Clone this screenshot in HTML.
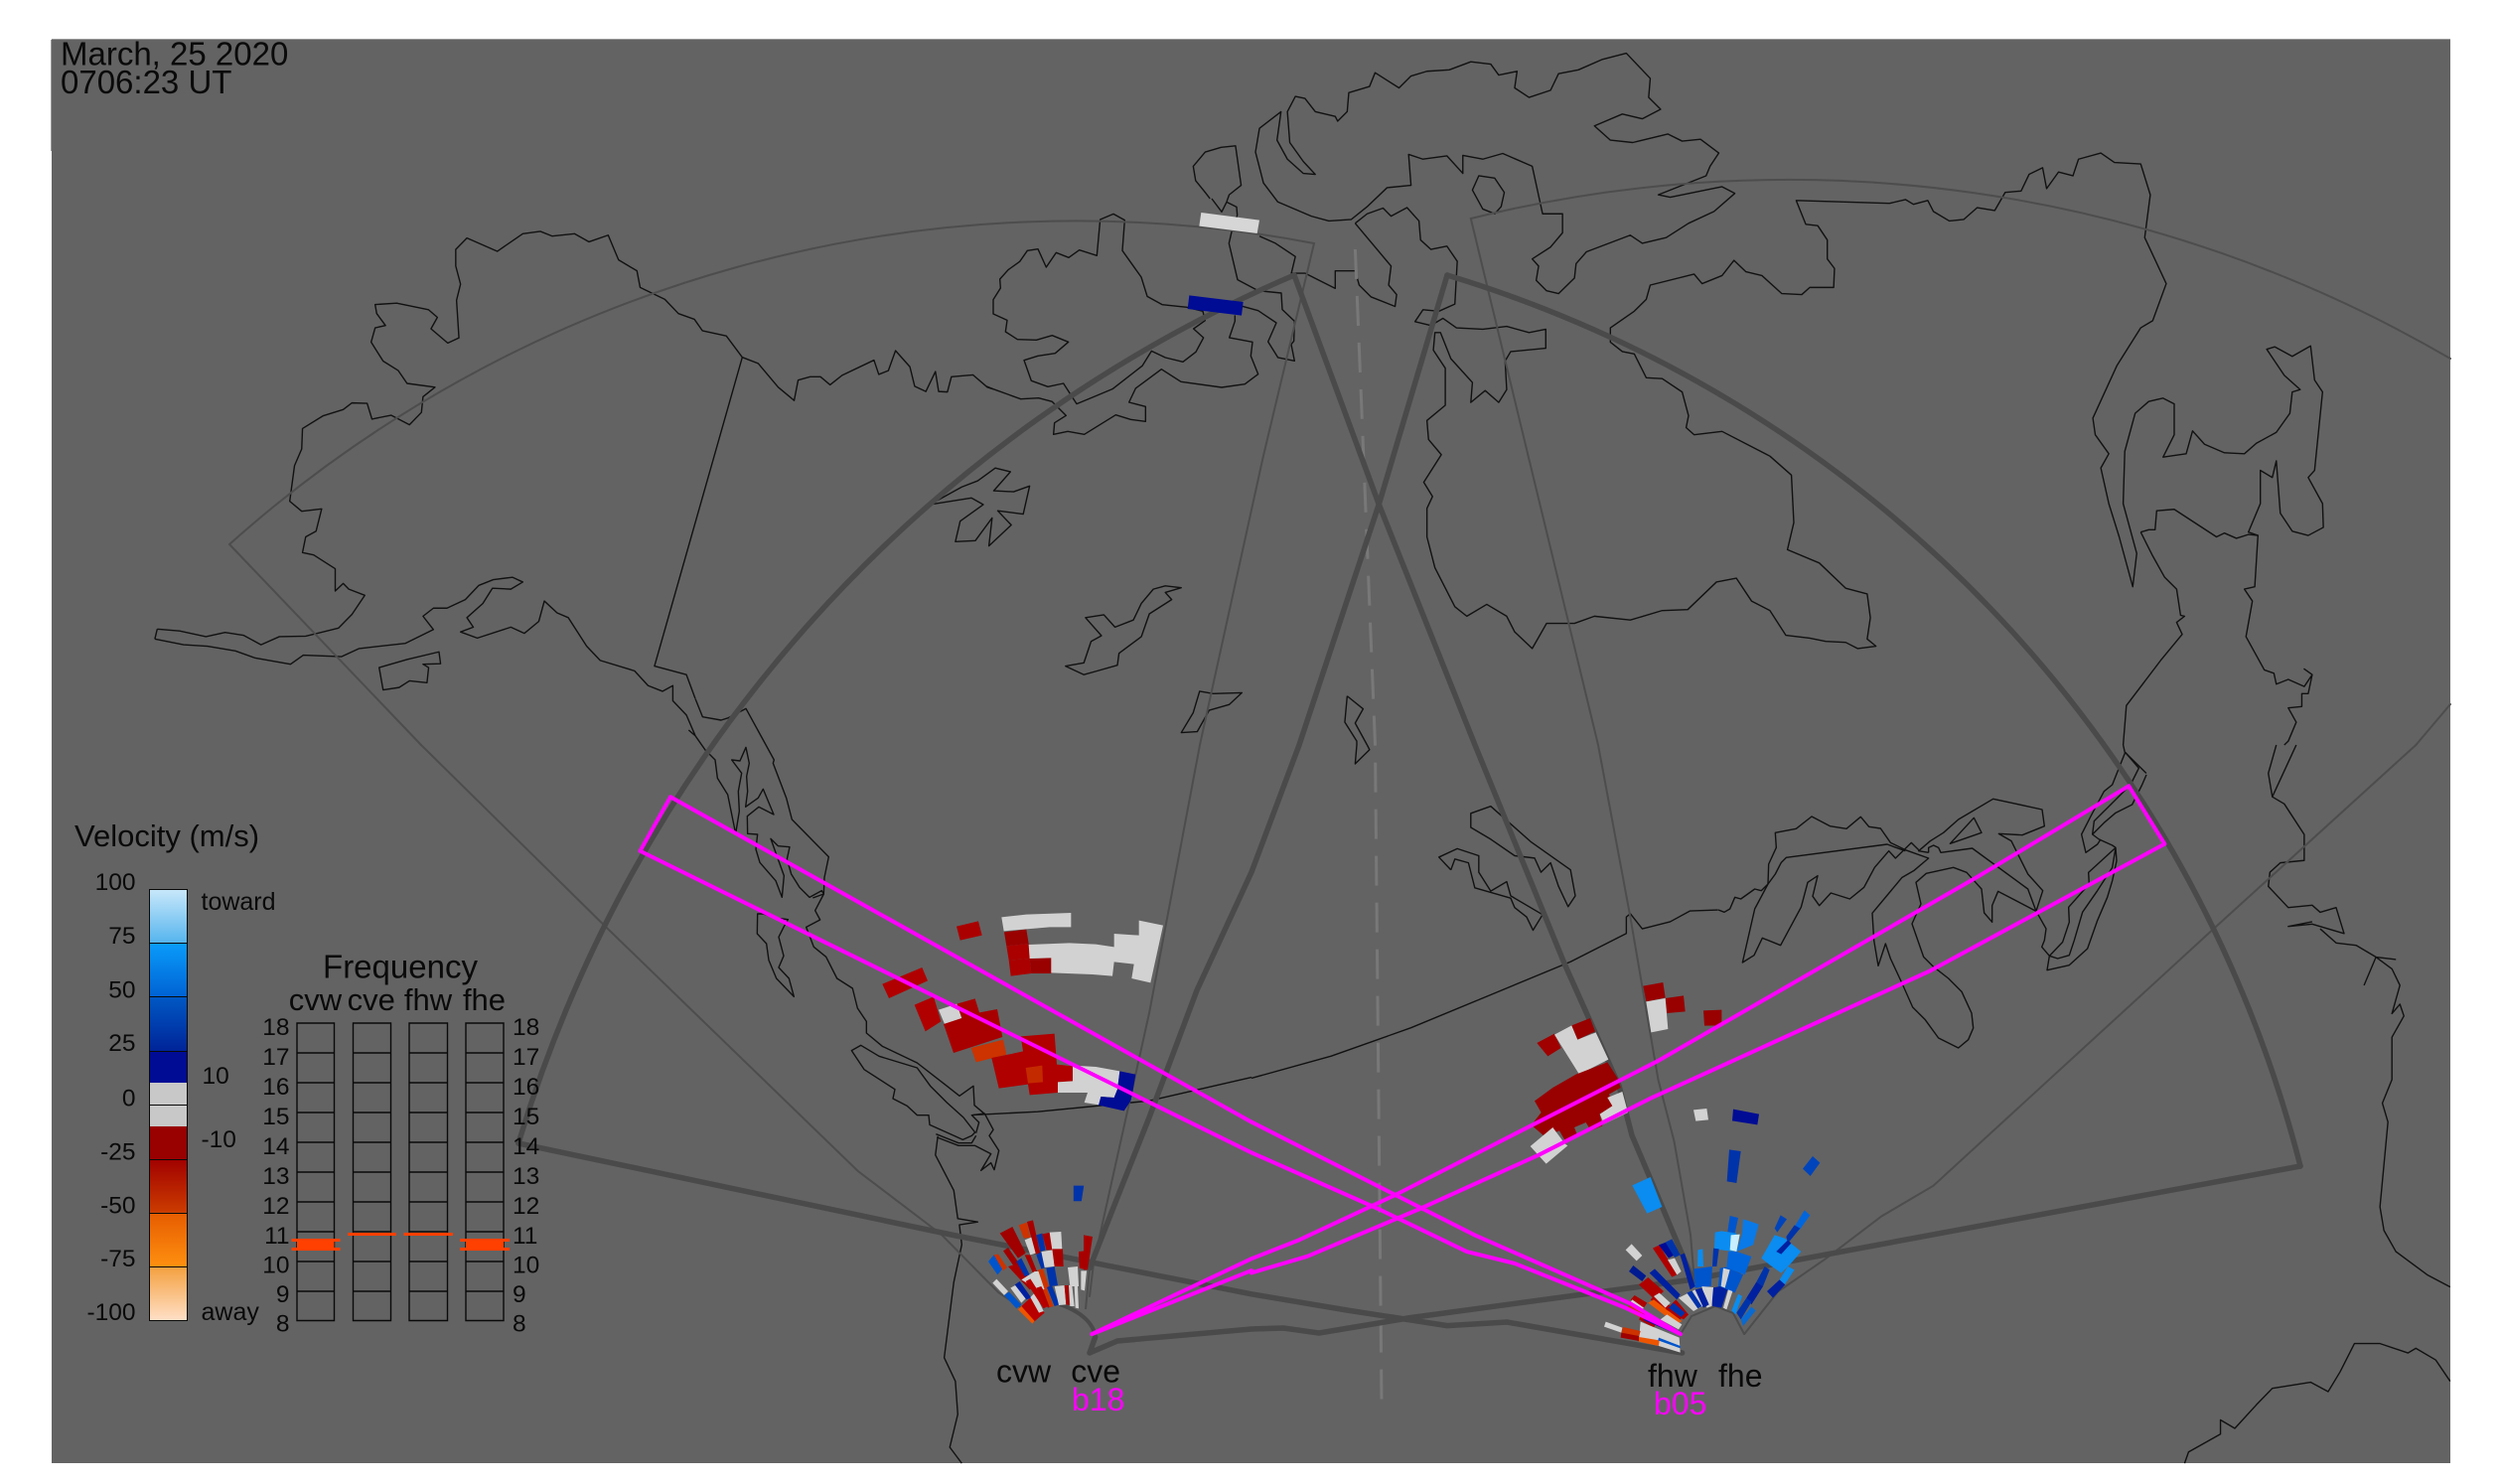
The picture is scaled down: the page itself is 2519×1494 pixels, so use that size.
<!DOCTYPE html>
<html><head><meta charset="utf-8"><style>
html,body{margin:0;padding:0;background:#fff}
svg{display:block}
polyline{vector-effect:non-scaling-stroke;fill:none}
.c polyline,.c polygon{stroke:#111;stroke-width:1.4;fill:none;vector-effect:non-scaling-stroke;stroke-linejoin:round}
.t polyline,.t path{stroke:#4d4d4d;stroke-width:2;stroke-linecap:round;fill:none;vector-effect:non-scaling-stroke}
.k polyline,.k path{stroke:#4a4a4a;stroke-width:5.5;stroke-linecap:round;stroke-linejoin:round;fill:none;vector-effect:non-scaling-stroke}
.m polyline,.m polygon{stroke:#ff00ff;stroke-width:4;stroke-linecap:round;stroke-linejoin:round;fill:none;vector-effect:non-scaling-stroke}
text{font-family:"Liberation Sans",sans-serif;fill:#0a0a0a}
.l{font-size:24.5px}
</style></head><body>
<svg width="2519" height="1494" viewBox="0 0 2519 1494" xmlns="http://www.w3.org/2000/svg">
<defs>
<linearGradient id="g1" x1="0" y1="0" x2="0" y2="1"><stop offset="0" stop-color="#c8e8fa"/><stop offset="1" stop-color="#55b4ee"/></linearGradient>
<linearGradient id="g2" x1="0" y1="0" x2="0" y2="1"><stop offset="0" stop-color="#0a9cfa"/><stop offset="1" stop-color="#0062d4"/></linearGradient>
<linearGradient id="g3" x1="0" y1="0" x2="0" y2="1"><stop offset="0" stop-color="#0058c4"/><stop offset="1" stop-color="#002498"/></linearGradient>
<linearGradient id="g5" x1="0" y1="0" x2="0" y2="1"><stop offset="0" stop-color="#a00000"/><stop offset="1" stop-color="#cc3c00"/></linearGradient>
<linearGradient id="g6" x1="0" y1="0" x2="0" y2="1"><stop offset="0" stop-color="#e65c00"/><stop offset="1" stop-color="#ff9010"/></linearGradient>
<linearGradient id="g7" x1="0" y1="0" x2="0" y2="1"><stop offset="0" stop-color="#f4a040"/><stop offset="1" stop-color="#ffe0c8"/></linearGradient>
</defs>
<rect x="52" y="40" width="2415" height="1433" fill="#636363"/>
<rect x="52" y="39" width="2415" height="1" fill="#999"/>
<rect x="51" y="40" width="1" height="112" fill="#999"/>

<!-- Q1 coast -->
<g transform="matrix(.80357 0 0 .47832 0 0)" class="c">
<polyline points="197,1324 225,1328 258,1340 282,1331 305,1337 327,1357 350,1340 383,1339 424,1322 441,1293 457,1253 437,1240 430,1228 420,1244 420,1197 393,1168 379,1163 383,1130 396,1118 403,1071 378,1076 363,1055 369,980 378,945 379,902 405,875 430,862 441,848 460,849 466,882 490,874 513,894 528,868 530,835 545,815 510,807 499,780 480,760 465,720 470,690 483,685 472,660 470,641 497,638 537,652 548,668 540,692 561,722 575,711 572,632 577,598 571,560 571,525 585,501 623,529 655,492 677,487 692,497 720,492 738,509 762,495 775,547 798,570 802,605 833,630 850,660 870,672 880,696 910,707 930,752 950,765 975,815 995,843 1000,800 1015,793 1028,793 1040,810 1055,790 1095,758 1101,788 1113,780 1122,738 1140,772 1146,813 1160,824 1172,782 1176,824 1187,825 1192,793 1219,789 1237,815 1244,819"/>
<polyline points="1516,418 1510,405 1498,380 1495,350 1510,320 1530,310 1548,307 1555,390 1540,410 1537,424"/>
<polygon points="1165,1062 1205,1025 1225,1012 1247,985 1266,993 1245,1033 1270,1035 1290,1023 1282,1082 1250,1075 1267,1105 1239,1149 1243,1090 1222,1138 1197,1140 1203,1097 1232,1062 1217,1048"/>
<polygon points="1335,1402 1358,1395 1367,1350 1380,1338 1360,1300 1383,1294 1397,1320 1420,1305 1430,1270 1445,1240 1460,1233 1480,1237 1460,1247 1468,1262 1440,1292 1430,1340 1402,1375 1400,1400 1375,1412 1358,1420"/>
<polygon points="1480,1542 1495,1500 1503,1455 1520,1460 1556,1458 1540,1483 1515,1495 1500,1540"/>
<polyline points="194,1345 197,1324"/>
<polyline points="194,1345 230,1357 260,1360 295,1370 320,1385 364,1398 380,1379 428,1382 450,1365 508,1354 543,1325 530,1297 543,1280 560,1280 583,1262 600,1232 618,1220 642,1215 655,1225 640,1240 617,1238 605,1270 585,1300 593,1320 577,1330 598,1343 640,1320 657,1333 675,1308 682,1265 698,1290 712,1300 735,1360 752,1390 795,1412 812,1443 830,1455 843,1443 843,1475 860,1505 871,1548"/>
<polygon points="475,1405 510,1388 550,1372 552,1397 530,1398 537,1405 535,1437 513,1433 500,1447 480,1452"/>
<polyline points="930,752 820,1402 860,1420 871,1470"/>
</g>

<!-- Arctic detail -->
<g transform="translate(1000 200) scale(.33333)" class="c">
<polygon points="0,305 22,270 20,243 45,215 80,190 103,157 135,152 160,207 190,163 228,178 260,155 313,172 323,63 363,46 397,65 390,157 447,237 465,295 510,320 585,328 633,340 640,368 605,393 635,420 612,463 573,493 520,480 478,460 450,505 360,575 300,600 252,620 212,558 165,568 115,550 93,488 135,475 187,467 227,433 178,413 130,427 73,425 37,402 42,367 0,348"/>
<polyline points="-20,567 0,575 83,605 137,602 178,613 220,655 185,677 182,712 225,703 275,712 370,653 415,667 460,673 460,628 410,615 430,573 508,515 567,553 690,570 760,560 800,530 778,475 783,433 713,420 730,370 730,352"/>
<polyline points="752,325 800,338 855,375 830,432 860,480 910,490 900,440 908,430 910,370 873,335 870,285 800,278 738,245 712,135 720,100"/>
<polyline points="660,0 690,40 705,10 735,25 737,50 720,100"/>
</g>

<!-- Q2 coast -->
<g transform="matrix(.80293 0 0 .47832 1260 0)" class="c">
<polygon points="37,235 10,270 5,320 15,385 33,425 75,455 97,465 125,462 145,435 170,395 200,390 197,325 215,335 245,328 265,365 265,327 290,335 315,323 352,350 365,450 390,450 390,490 375,520 352,545 360,560 357,590 370,612 385,618 405,585 407,555 420,530 475,495 490,512 520,500 548,470 580,445 606,407 590,393 525,415 510,410 570,370 575,350 586,322 563,293 540,297 522,282 478,300 450,295 430,265 465,240 490,250 513,230 498,205 500,165 470,112 440,125 410,147 385,155 375,190 348,205 330,185 333,150 310,158 300,135 275,130 248,147 220,150 200,160 185,185 155,153 148,182 122,195 120,235 108,255 105,245 80,235 67,207 55,203 45,235 48,300 65,340 80,367 65,365 45,335 32,295"/>
<polygon points="285,370 305,375 317,405 313,435 305,450 290,440 277,400"/>
<polyline points="130,470 145,450 165,438 175,455 195,437 210,465 212,505 225,525 245,518 258,550 255,640 235,655 215,652 205,677 225,685 240,670 257,690 290,693 320,687 348,700 369,693 369,733 325,740 318,760 320,820 310,847 293,822 275,847 277,805 250,755 237,700 230,700 228,737 243,775 243,853 220,885 222,925 238,957 216,1015 227,1045 220,1070 220,1130 230,1195 255,1277 270,1297 295,1272 320,1297 330,1330 352,1365 370,1312 405,1312 430,1297 475,1305 515,1285 547,1283 583,1225 608,1217 627,1265 650,1285 670,1337 700,1343 720,1350 745,1352 760,1365 783,1360 772,1345 776,1300 772,1250 745,1238 712,1185 672,1157 680,1100 677,1000 650,960 590,908 555,915 545,900 548,875 540,825 515,797 495,795 480,745 465,740 450,720 450,690 480,655 495,630 500,600 555,577 565,597 590,580 605,548 620,572 640,580 665,618 690,620 700,605 730,605 731,565 722,545 722,505 710,475 695,472 683,422 800,428 820,420 830,430 848,422 855,445 875,465 893,462 910,437 932,443 945,405 965,402 975,367 992,353 997,397 1012,362 1030,370 1037,335 1065,322 1082,342 1115,345 1127,410 1120,500 1147,597 1130,675 1115,690 1085,770 1055,880 1058,915 1075,955 1065,985 1075,1060 1088,1130 1105,1235 1110,1165 1093,1060 1095,950 1108,870 1125,845 1143,838 1157,850 1157,915 1143,962 1172,955 1180,907 1195,935 1220,953 1245,955 1260,933 1285,910 1302,870 1305,825 1315,820 1295,790 1273,735 1283,730 1305,750 1328,728 1333,800 1343,825 1333,990 1325,1005 1343,1060 1344,1110 1325,1127 1305,1118 1290,1080 1285,970 1280,1005 1265,990 1265,1060 1250,1120 1262,1127 1258,1235 1245,1240 1255,1265 1247,1340 1270,1410 1282,1417 1285,1440 1300,1430 1320,1445 1330,1420 1320,1408 1330,1420 1325,1460 1317,1460 1317,1487 1300,1490 1310,1520 1300,1560 1295,1568"/>
<polyline points="130,470 175,560 172,600 182,620 180,645 150,625 135,600 130,570 105,570 105,607 67,575 50,575 55,540 30,512 10,497"/>
<polyline points="1115,1120 1125,1115 1133,1115 1135,1075 1157,1072 1210,1130 1220,1122 1235,1133 1250,1125 1262,1127"/>
<polyline points="1115,1120 1130,1170 1145,1215 1160,1240 1165,1295 1170,1297 1160,1310 1167,1335 1140,1390 1097,1485 1093,1568"/>
<polyline points="120,1465 140,1492 130,1522 145,1568"/>
<polyline points="120,1465 117,1520 132,1560 132,1568"/>
</g>

<!-- BC coast detail -->
<g transform="translate(700 700) scale(.33333)" class="c">
<polyline points="0,10 22,65 78,75 100,68 153,40 238,195 235,205 275,310 292,375 403,488 390,550 388,600 362,650 377,678 335,700 358,760 395,790 428,855 475,885 490,945 517,985 517,1020 565,1060 670,1110 760,1180 798,1210 840,1180 843,1238 875,1265 900,1312 888,1330 917,1375 903,1433 893,1412 863,1435 893,1385 845,1360 795,1360 730,1335"/>
<polyline points="-20,105 0,122 30,165 60,195 67,250 98,300 122,418 133,350 130,290 140,235 110,195 135,198 153,157 163,205 155,245 158,290 152,337 190,310 205,283 237,360 192,337 157,365 158,418 188,420 183,465 195,505 243,560 262,610 268,545 250,495 228,433 250,455 285,458 277,495 290,540 315,580 345,610 382,590 388,600 355,612"/>
<polygon points="188,660 187,720 215,750 222,800 245,855 298,910 283,855 252,822 267,787 252,730 267,700 280,677 240,672 205,660"/>
<polygon points="472,1073 500,1057 555,1090 670,1125 710,1180 760,1230 810,1275 845,1320 835,1330 808,1342 708,1297 705,1268 670,1268 640,1240 597,1218 603,1190 510,1130"/>
<polyline points="848,1322 857,1290 835,1268 875,1263"/>
<polyline points="727,1325 795,1352 835,1352 848,1330"/>
</g>

<!-- Q3 coast -->
<g transform="matrix(.80357 0 0 .47449 0 750)" class="c">
<polyline points="1220,785 1300,778 1440,755 1568,705"/>
<polyline points="1175,830 1172,870 1195,945 1200,1005 1225,1012 1202,1018 1205,1060 1195,1140 1183,1300 1197,1350 1200,1420 1190,1490 1205,1524"/>
</g>

<!-- Q4 coast -->
<g transform="matrix(.80293 0 0 .47449 1260 750)" class="c">
<polygon points="275,145 300,130 320,160 350,205 400,265 406,320 397,343 385,300 375,250 363,270 355,240 330,235 300,200 275,175"/>
<polyline points="250,265 235,238 258,220 285,235 285,270 300,310 320,290 325,320 365,360 353,393 345,365 330,345 325,325 280,303 272,250 255,242 250,265"/>
<polyline points="145,0 148,10 130,40 132,0"/>
<polyline points="0,707 100,660 200,600 300,530 400,460 470,400 470,365 475,358 490,390 525,375 550,352 585,350"/>
<polyline points="1093,0 1095,15 1122,60"/>
<polyline points="1310,0 1280,110 1275,60 1285,0"/>
<polyline points="1280,110 1295,125 1320,190 1320,245 1290,250 1277,270 1275,300 1300,345 1330,340 1340,355 1360,345 1370,400 1330,380 1300,385 1330,375"/>
<polyline points="1340,390 1360,420 1385,425 1410,450 1430,475 1440,510 1430,570 1440,550 1445,575 1430,620 1430,710 1418,760 1425,800 1415,980 1420,1030 1435,1075 1475,1125 1503,1150"/>
<polyline points="1395,510 1410,450 1435,455"/>
<polyline points="1170,1524 1175,1500 1215,1462 1215,1432 1233,1450 1260,1400 1280,1365 1328,1352 1350,1372 1365,1330 1383,1270 1415,1270 1450,1290 1460,1280 1485,1305 1503,1350"/>
</g>

<!-- Great Lakes detail -->
<g transform="translate(1730 790) scale(.33333)" class="c">
<polyline points="0,378 18,385 35,375 50,340 68,345 110,315 130,320 150,300 172,270 190,235 205,220 510,180 565,200"/>
<polyline points="150,300 152,240 175,190 172,145 235,133 282,96 337,125 387,133 430,97 455,127 490,132 520,175 565,197 635,222 590,260 555,280 465,388 470,470 483,547 505,480 520,525 555,600 587,672 625,710 665,765 725,795 755,770 770,735 765,690 735,625 695,585 650,550 620,520 585,420 612,360 597,295 628,268 710,250 750,265 795,315 803,387 827,415 827,365 845,322 960,382 980,320 935,270 885,170 847,148 918,152 985,125 978,75 900,58 830,43 725,105 680,145 640,170 605,200 635,205"/>
<polyline points="150,300 110,375 73,537 108,515 133,463 188,485 250,370 270,295 300,275 285,337 305,365 340,327 397,345 440,310 472,250 515,200 535,222 583,175 605,197"/>
<polygon points="700,178 772,100 795,145"/>
<polyline points="635,205 635,190 650,183 665,190 672,205 767,192 935,315 960,382 990,435 985,470 977,490 1000,517 1025,525 1060,515 1075,470 1100,385 1145,320 1190,250 1200,190 1118,265 1120,300 1058,370 1060,415 1040,475 1000,517 993,560 1060,545 1115,495 1145,410 1175,340 1190,290 1203,230 1200,190 1190,183 1150,165 1130,150 1135,110 1190,55 1245,0 1270,-50 1229,-98"/>
<polyline points="1130,150 1165,115 1200,85 1250,60 1280,0 1293,-30"/>
<polyline points="1155,165 1145,180 1110,205 1097,150 1125,95 1165,20 1190,0 1229,-98"/>
</g>

<!-- thin FOV -->
<g class="t">
<path d="M424,750 L231,548 A1279.5,1279.5 0 0 1 1323,245 L1271.7,460 L1208,750 L1157,1020 L1101,1272 L1097,1305"/>
<polyline points="424,750 606.7,930 863.8,1179 948,1243 1005,1301 1044,1327"/>
<path d="M1480.8,220 A1324.6,1324.6 0 0 1 2467,361"/>
<polyline points="1480.8,220 1609,750 1641,921 1669.5,1087 1685.5,1149 1702,1243 1705.6,1286"/>
<polyline points="2467,709 2432.3,750 2223.5,939.8 1946.5,1193.7 1894.3,1224.5 1838.1,1267.2 1790,1300.4 1756.2,1343"/>
<polyline points="1692,1343 1703,1325 1727,1315 1745,1322 1756,1343"/>
</g>
<!-- dashed centre line -->
<polyline points="1364.4,251 1384.5,750 1391,1414" stroke="#787878" stroke-width="3" stroke-dasharray="30 17"/>

<!-- thick FOV -->
<g class="k">
<path d="M522,1151 A1383,1383 0 0 1 1303,277"/>
<polyline points="1303,277 1388,507 1485,750 1575,970 1630,1093 1643,1143 1663,1190 1705,1290"/>
<polyline points="522,1151 960,1243.5 1260,1302.8 1356,1319 1457,1334.6 1517,1331 1693.6,1362"/>
<path d="M1457,277 A1264,1264 0 0 1 2316,1174"/>
<polyline points="2316,1174 1701.6,1288.5 1420.6,1326.5 1328,1342 1292,1337 1260,1338 1125,1350 1097,1362 1102.7,1346"/>
<polyline points="1457,277 1388.5,507 1308,750 1260,878 1205,997 1157,1125 1125,1205.5 1097,1276.7"/>
</g>
<path d="M1102.7,1346 Q1100,1325 1067,1313" stroke="#4a4a4a" stroke-width="4" fill="none"/>
<path d="M1097,1276 L1093,1318" stroke="#4d4d4d" stroke-width="2" fill="none"/>

<!-- top rects -->
<g transform="translate(1000 200) scale(.33333)">
<polygon points="628,42 804,65 797,105 622,83" fill="#d6d6d6"/>
<polygon points="592,292 755,312 750,353 587,333" fill="#000c94"/>
</g>
<g transform="matrix(.80357 0 0 .47449 0 750)"><polygon points="1345,935 1358,935 1355,968 1345,968" fill="#0033aa"/></g>

<!-- echoes zoom8 -->
<g transform="translate(860 900) scale(.33333)">
<polygon fill="#d2d2d2" points="445,70 520,62 655,57 655,100 590,100 452,112"/>
<polygon fill="#aa0000" points="309,98 375,82 386,125 320,140"/>
<polygon fill="#990000" points="453,115 520,107 527,150 460,157"/>
<polygon fill="#aa0000" points="460,157 527,150 530,195 467,200"/>
<polygon fill="#aa0000" points="467,200 530,195 535,240 473,248"/>
<polygon fill="#990000" points="530,195 595,193 595,240 535,240"/>
<polygon fill="#d2d2d2" points="527,153 650,148 730,152 785,160 785,120 860,125 860,80 933,95 895,268 838,255 845,212 785,205 780,248 720,243 595,238 595,193 530,195"/>
<polygon fill="#b00000" points="85,272 205,222 222,262 105,315"/>
<polygon fill="#b00000" points="182,335 240,310 262,385 215,415"/>
<polygon fill="#d2d2d2" points="255,350 310,332 325,375 273,393"/>
<polygon fill="#a80000" points="270,393 325,375 310,332 365,316 378,358 432,348 448,432 300,480"/>
<polygon fill="#cc3300" points="353,465 450,440 460,485 368,508"/>
<polygon fill="#b00000" points="415,495 465,485 510,475 503,430 605,422 612,515 660,520 660,565 615,568 615,600 530,607 525,575 437,587"/>
<polygon fill="#c42a00" points="518,525 568,518 570,568 525,572"/>
<polygon fill="#d2d2d2" points="660,518 730,522 802,535 795,590 785,615 745,612 740,637 695,630 705,600 615,600 615,568 660,565"/>
<polygon fill="#000c94" points="802,535 850,545 840,605 835,625 815,655 738,638 745,612 785,615 795,590"/>
</g>
<!-- echoes zoom9 -->
<g transform="translate(1520 970) scale(.33333)">
<polygon fill="#990000" points="403,68 463,57 470,103 412,115"/>
<polygon fill="#990000" points="470,105 525,97 530,145 475,150"/>
<polygon fill="#d2d2d2" points="412,115 470,105 478,198 427,208"/>
<polygon fill="#990000" points="585,142 640,140 640,187 588,188"/>
<polygon fill="#a00000" points="82,240 135,212 155,255 115,280"/>
<polygon fill="#d2d2d2" points="135,215 187,187 205,230 260,208 298,290 210,335"/>
<polygon fill="#990000" points="187,187 243,165 258,205 205,230"/>
<polygon fill="#990000" points="75,415 130,375 200,335 295,298 325,345 335,375 300,395 310,430 272,455 280,490 245,505 230,480 195,495 205,520 170,540 150,505 105,522 65,488 95,450"/>
<polygon fill="#d2d2d2" points="295,405 340,387 357,450 285,485 272,455 310,430"/>
<polygon fill="#d2d2d2" points="62,552 130,495 167,545 175,550 110,605"/>
<polygon fill="#d2d2d2" points="555,442 595,438 600,472 562,476"/>
<polygon fill="#000c94" points="675,440 753,455 748,487 672,475"/>
</g>
<!-- echoes zoom7 -->
<g transform="translate(1600 1120) scale(.33333)">
<polygon fill="#0a8cf0" points="130,220 185,195 220,285 175,305"/>
<polygon fill="#0033aa" points="423,112 458,117 445,213 416,208"/>
<polygon fill="#0044bb" points="645,170 675,132 697,152 668,192"/>
<polygon fill="#d2d2d2" points="110,415 128,397 160,432 143,448"/>
<polygon fill="#0055cc" points="425,312 450,318 440,365 418,360"/>
<polygon fill="#0a7ae8" points="465,322 490,330 512,338 495,400 445,420 462,365"/>
<polygon fill="#0a8cf0" points="380,362 400,358 445,365 435,420 378,412"/>
<polygon fill="#c8eeff" points="428,370 455,368 445,420 425,415"/>
<polygon fill="#0044bb" points="560,350 578,310 597,322 568,362"/>
<polygon fill="#0066dd" points="620,345 650,295 667,310 635,355"/>
<polygon fill="#0033aa" points="595,375 620,340 637,350 600,395"/>
<polygon fill="#0a8cf0" points="520,440 560,370 590,380 640,420 610,455 580,485 545,460"/>
<polygon fill="#0020a0" points="565,420 600,385 610,395 580,428"/>
<polygon fill="#0a8cf0" points="575,505 600,465 620,475 590,520"/>
<polygon fill="#0020a0" points="537,540 575,505 592,520 555,560"/>
<polygon fill="#0a8cf0" points="328,415 343,412 345,465 327,465"/>
<polygon fill="#0033aa" points="375,410 392,412 385,465 372,465"/>
<polygon fill="#0055cc" points="316,472 372,465 368,525 320,530"/>
<polygon fill="#0066dd" points="420,420 445,420 490,435 470,490 415,470"/>
<polygon fill="#0055cc" points="395,470 412,467 465,490 440,545 390,525"/>
<polygon fill="#d2d2d2" points="405,470 425,475 410,530 398,525"/>
<polygon fill="#0033aa" points="505,512 530,465 545,475 525,525"/>
<polygon fill="#0020a0" points="475,560 505,512 525,525 490,580"/>
<polygon fill="#0033aa" points="445,605 475,560 490,572 458,625"/>
<polygon fill="#0a8cf0" points="430,598 450,548 462,555 442,610"/>
<polygon fill="#0a6ad0" points="458,625 490,587 503,598 465,645"/>
<polygon fill="#0020a0" points="370,530 395,525 418,535 400,590 372,585"/>
<polygon fill="#d2d2d2" points="405,590 420,535 433,540 415,595"/>
<polygon fill="#d2d2d2" points="340,525 375,528 370,585 355,590"/>
<polygon fill="#d2d2d2" points="270,560 320,535 350,580 315,600"/>
<polygon fill="#0033aa" points="295,545 310,538 340,585 328,592"/>
<polygon fill="#0020a0" points="320,535 340,530 362,580 345,590"/>
<polygon fill="#0020a0" points="182,485 198,472 275,550 265,565"/>
<polygon fill="#001a90" points="120,480 133,462 172,493 160,510"/>
<polygon fill="#b00000" points="192,410 212,400 265,490 250,497"/>
<polygon fill="#000c94" points="210,400 232,392 258,430 240,440"/>
<polygon fill="#0033aa" points="230,392 250,382 275,430 258,438"/>
<polygon fill="#d2d2d2" points="237,445 258,440 278,480 265,490"/>
<polygon fill="#0020a0" points="275,430 288,425 320,525 305,535"/>
<polygon fill="#b00000" points="150,520 178,498 225,540 198,565"/>
<polygon fill="#b00000" points="185,565 195,555 290,610 275,625"/>
<polygon fill="#d2d2d2" points="195,555 212,545 245,575 230,590"/>
<polygon fill="#ee5500" points="178,575 195,565 280,630 265,640"/>
<polygon fill="#b00000" points="232,595 262,565 300,610 285,625"/>
<polygon fill="#0033aa" points="240,590 255,575 290,605 278,618"/>
<polygon fill="#b00000" points="125,565 137,552 175,575 165,590"/>
<polygon fill="#d2d2d2" points="120,580 130,565 165,590 155,600"/>
<polygon fill="#cc3300" points="110,595 125,580 190,610 180,635"/>
<polygon fill="#b00000" points="165,600 210,625 195,650 150,625"/>
<polygon fill="#d2d2d2" points="215,625 235,610 280,640 270,655"/>
<polygon fill="#d2d2d2" points="155,632 272,680 275,725 210,705 150,690"/>
<polygon fill="#0020a0" points="160,625 175,625 275,660 265,670"/>
<polygon fill="#d2d2d2" points="45,647 50,632 100,650 97,665"/>
<polygon fill="#cc3300" points="97,665 102,648 155,660 150,678"/>
<polygon fill="#a00000" points="97,665 150,675 150,690 95,680"/>
<polygon fill="#ee5500" points="150,678 212,688 210,705 150,692"/>
<polygon fill="#0055cc" points="210,680 275,705 275,712 208,688"/>
</g>
<!-- echoes zoom6 -->
<g transform="translate(960 1200) scale(.33333)">
<polygon fill="#a00000" points="140,125 178,105 218,185 195,200"/>
<polygon fill="#cc3300" points="197,100 222,92 232,138 212,140"/>
<polygon fill="#a80000" points="222,90 240,85 262,185 248,188"/>
<polygon fill="#d2d2d2" points="215,145 235,137 248,185 232,190"/>
<polygon fill="#0033aa" points="250,130 268,125 278,175 262,180"/>
<polygon fill="#a80000" points="268,127 295,122 298,175 280,175"/>
<polygon fill="#d2d2d2" points="290,122 325,120 328,172 298,175"/>
<polygon fill="#a80000" points="378,180 395,178 400,235 380,230"/>
<polygon fill="#a80000" points="393,130 420,135 405,235 393,235"/>
<polygon fill="#d2d2d2" points="345,228 375,225 378,285 352,285"/>
<polygon fill="#d2d2d2" points="385,238 402,238 396,298 385,295"/>
<polygon fill="#d2d2d2" points="365,285 375,285 378,352 368,350"/>
<polygon fill="#a00000" points="150,178 165,168 215,240 200,250"/>
<polygon fill="#0055cc" points="105,210 122,190 150,230 133,250"/>
<polygon fill="#cc3300" points="122,190 135,188 162,228 150,238"/>
<polygon fill="#a80000" points="165,225 190,218 250,280 230,295"/>
<polygon fill="#0033aa" points="190,210 205,200 230,250 215,255"/>
<polygon fill="#a80000" points="215,190 232,190 252,240 240,245"/>
<polygon fill="#0033aa" points="250,190 265,180 280,228 265,232"/>
<polygon fill="#d2d2d2" points="265,180 300,175 305,225 275,228"/>
<polygon fill="#a80000" points="298,172 330,172 332,225 305,225"/>
<polygon fill="#0033aa" points="280,230 305,225 315,282 290,285"/>
<polygon fill="#d2d2d2" points="118,275 130,263 165,300 153,312"/>
<polygon fill="#0055cc" points="153,312 168,302 205,340 190,352"/>
<polygon fill="#d2d2d2" points="172,290 190,280 220,320 205,335"/>
<polygon fill="#0020a0" points="185,280 200,270 235,320 220,325"/>
<polygon fill="#d2d2d2" points="205,265 245,240 268,240 285,290 262,300"/>
<polygon fill="#cc3300" points="255,235 270,232 290,290 275,295"/>
<polygon fill="#b80000" points="205,345 232,320 275,365 240,395"/>
<polygon fill="#ee5500" points="195,355 205,345 245,390 238,398"/>
<polygon fill="#d2d2d2" points="232,318 245,305 272,360 258,365"/>
<polygon fill="#b80000" points="218,270 232,262 285,345 272,352"/>
<polygon fill="#b00000" points="250,290 265,285 300,345 285,350"/>
<polygon fill="#cc3300" points="270,295 282,292 302,345 290,348"/>
<polygon fill="#0033aa" points="282,288 297,282 320,340 305,345"/>
<polygon fill="#d2d2d2" points="305,285 335,282 340,340 318,342"/>
<polygon fill="#a80000" points="335,282 348,282 350,342 340,340"/>
<polygon fill="#d2d2d2" points="348,282 358,282 365,345 352,345"/>
</g>

<!-- magenta -->
<g class="m">
<g transform="matrix(.80357 0 0 .47449 0 750)">
<polyline points="1568,800 840,110 802,225 1568,865"/>
<polyline points="1568,1090 1368,1250 1568,1115"/>
</g>
<g transform="matrix(.80293 0 0 .47449 1260 750)">
<polyline points="0,800 280,1040 475,1185 538,1250 470,1195 330,1100 270,1075 160,985 0,865"/>
<polyline points="0,1090 60,1050 180,955 510,670 910,280 1100,87 1145,210 850,480 500,750 360,870 210,985 70,1085 0,1120"/>
</g>
</g>

<!-- legend bar -->
<g transform="translate(0 780) scale(.39541 .3827)">
<rect x="381" y="302" width="95" height="141" fill="url(#g1)"/>
<rect x="381" y="443" width="95" height="142" fill="url(#g2)"/>
<rect x="381" y="585" width="95" height="142" fill="url(#g3)"/>
<rect x="381" y="727" width="95" height="83" fill="#000c94"/>
<rect x="381" y="810" width="95" height="115" fill="#c8c8c8"/>
<rect x="381" y="925" width="95" height="85" fill="#990000"/>
<rect x="381" y="1010" width="95" height="142" fill="url(#g5)"/>
<rect x="381" y="1152" width="95" height="143" fill="url(#g6)"/>
<rect x="381" y="1295" width="95" height="141" fill="url(#g7)"/>
</g>
<g stroke="#0a0a0a" stroke-width="1" fill="none">
<rect x="150.5" y="895.5" width="38" height="434"/>
<path d="M151 949.5H188M151 1003.5H188M151 1058.5H188M151 1112.5H188M151 1167.5H188M151 1221.5H188M151 1275.5H188"/>
</g>
<g stroke="#0a0a0a" stroke-width="1.4" fill="none">
<path d="M299 1030H336.5V1329.5H299ZM355.5 1030H393.5V1329.5H355.5ZM412 1030H450.5V1329.5H412ZM469 1030H507V1329.5H469Z"/>
<path d="M299 1060H336.5M299 1090H336.5M299 1120H336.5M299 1150H336.5M299 1180H336.5M299 1210H336.5M299 1240H336.5M299 1270H336.5M299 1300H336.5"/>
<path d="M355.5 1060H393.5M355.5 1090H393.5M355.5 1120H393.5M355.5 1150H393.5M355.5 1180H393.5M355.5 1210H393.5M355.5 1240H393.5M355.5 1270H393.5M355.5 1300H393.5"/>
<path d="M412 1060H450.5M412 1090H450.5M412 1120H450.5M412 1150H450.5M412 1180H450.5M412 1210H450.5M412 1240H450.5M412 1270H450.5M412 1300H450.5"/>
<path d="M469 1060H507M469 1090H507M469 1120H507M469 1150H507M469 1180H507M469 1210H507M469 1240H507M469 1270H507M469 1300H507"/>
</g>
<g fill="#ff4000">
<rect x="299" y="1247" width="37.5" height="12"/><rect x="293.5" y="1247" width="49" height="3"/><rect x="293.5" y="1256" width="49" height="3"/>
<rect x="469" y="1247" width="38" height="12"/><rect x="463" y="1247" width="50" height="3"/><rect x="463" y="1256" width="50" height="3"/>
<rect x="350" y="1241" width="49" height="3"/><rect x="406.5" y="1241" width="49.5" height="3"/>
</g>

<!-- text -->
<text x="61" y="65.5" font-size="33">March, 25 2020</text>
<text x="61" y="94" font-size="33">0706:23 UT</text>
<text x="75" y="852" font-size="31">Velocity (m/s)</text>
<g class="l" text-anchor="end">
<text x="136.5" y="896">100</text>
<text x="136.5" y="950">75</text>
<text x="136.5" y="1004.3">50</text>
<text x="136.5" y="1058.2">25</text>
<text x="136.5" y="1113.3">0</text>
<text x="136.5" y="1167.3">-25</text>
<text x="136.5" y="1221.3">-50</text>
<text x="136.5" y="1275.2">-75</text>
<text x="136.5" y="1329.2">-100</text>
<text x="291.5" y="1042.2">18</text>
<text x="291.5" y="1072">17</text>
<text x="291.5" y="1102.2">16</text>
<text x="291.5" y="1132.1">15</text>
<text x="291.5" y="1161.9">14</text>
<text x="291.5" y="1192.2">13</text>
<text x="291.5" y="1222">12</text>
<text x="291.5" y="1251.9">11</text>
<text x="291.5" y="1281.7">10</text>
<text x="291.5" y="1310.8">9</text>
<text x="291.5" y="1340.7">8</text>
</g>
<g class="l">
<text x="516" y="1042.2">18</text><text x="516" y="1072">17</text><text x="516" y="1102.2">16</text><text x="516" y="1132.1">15</text><text x="516" y="1161.9">14</text><text x="516" y="1192.2">13</text><text x="516" y="1222">12</text><text x="516" y="1251.9">11</text><text x="516" y="1281.7">10</text><text x="516" y="1310.8">9</text><text x="516" y="1340.7">8</text>
<text x="202.5" y="915.9" style="font-size:25px">toward</text>
<text x="202.5" y="1329.2" style="font-size:25px">away</text>
<text x="203.5" y="1091">10</text>
<text x="202.5" y="1155">-10</text>
</g>
<text x="403" y="984.7" font-size="33" text-anchor="middle">Frequency</text>
<g font-size="31" text-anchor="middle">
<text x="317.5" y="1017">cvw</text><text x="373.7" y="1017">cve</text><text x="431" y="1017">fhw</text><text x="487.5" y="1017">fhe</text>
</g>
<g font-size="32">
<text x="1003" y="1391.7">cvw</text><text x="1078.3" y="1391.7">cve</text>
<text x="1659" y="1396">fhw</text><text x="1730" y="1396">fhe</text>
<text x="1079" y="1420" style="fill:#ff00ff">b18</text>
<text x="1665" y="1423.8" style="fill:#ff00ff">b05</text>
</g>
</svg>
</body></html>
